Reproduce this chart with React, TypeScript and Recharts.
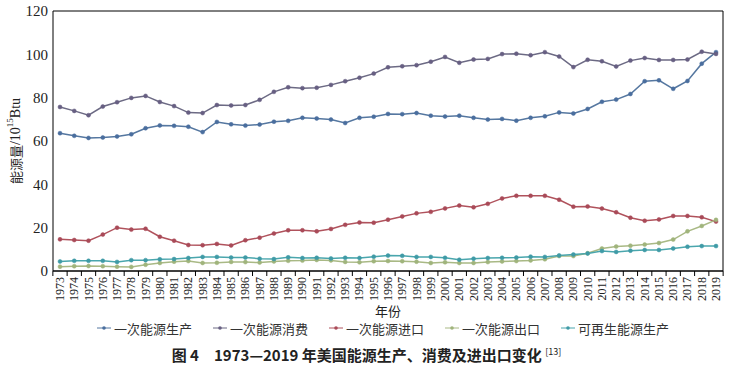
import React from 'react';
import { LineChart, Line, XAxis, YAxis, CartesianGrid, Legend } from 'recharts';

const years = [
  '1973','1974','1975','1976','1977','1978','1979','1980','1981','1982','1983','1984','1985','1986','1987','1988',
  '1989','1990','1991','1992','1993','1994','1995','1996','1997','1998','1999','2000','2001','2002','2003','2004',
  '2005','2006','2007','2008','2009','2010','2011','2012','2013','2014','2015','2016','2017','2018','2019',
];

const production = [
  63.6, 62.4, 61.4, 61.6, 62.1, 63.1, 65.9, 67.2, 67.0, 66.6, 64.1, 68.8, 67.7, 67.1, 67.6, 68.9,
  69.3, 70.7, 70.4, 69.9, 68.3, 70.7, 71.2, 72.5, 72.4, 72.9, 71.7, 71.3, 71.7, 70.7, 69.9, 70.2,
  69.4, 70.7, 71.4, 73.2, 72.7, 74.8, 78.1, 79.1, 81.7, 87.6, 88.0, 84.1, 87.7, 95.7, 101.0,
];
const consumption = [
  75.7, 73.9, 71.9, 75.9, 77.9, 79.9, 80.8, 78.0, 76.1, 73.1, 72.9, 76.6, 76.4, 76.6, 79.0, 82.7,
  84.8, 84.4, 84.6, 85.9, 87.6, 89.2, 91.1, 94.0, 94.5, 95.0, 96.6, 98.8, 96.1, 97.6, 97.9, 100.1,
  100.3, 99.6, 101.0, 99.0, 94.1, 97.5, 96.8, 94.4, 97.1, 98.3, 97.4, 97.4, 97.6, 101.2, 100.2,
];
const imports = [
  14.6, 14.3, 14.0, 16.8, 20.0, 19.1, 19.5, 15.8, 14.0, 12.0, 11.9, 12.5, 11.8, 14.2, 15.4, 17.3,
  18.8, 18.8, 18.3, 19.4, 21.3, 22.4, 22.3, 23.7, 25.2, 26.6, 27.3, 28.9, 30.2, 29.4, 31.0, 33.5,
  34.7, 34.7, 34.7, 32.9, 29.7, 29.8, 28.8, 27.1, 24.6, 23.2, 23.8, 25.4, 25.4, 24.8, 22.8,
];
const exportsData = [
  2.0, 2.2, 2.3, 2.2, 2.0, 1.9, 2.9, 3.7, 4.3, 4.6, 3.7, 3.8, 4.2, 4.1, 3.9, 4.4,
  4.7, 4.8, 5.1, 4.9, 4.2, 4.0, 4.5, 4.6, 4.5, 4.3, 3.7, 4.0, 3.7, 3.7, 4.1, 4.4,
  4.6, 4.9, 5.4, 6.9, 6.9, 8.2, 10.4, 11.3, 11.7, 12.2, 12.9, 14.5, 18.3, 20.8, 23.6,
];
const renewable = [
  4.4, 4.7, 4.7, 4.7, 4.2, 5.0, 5.0, 5.4, 5.5, 6.0, 6.5, 6.5, 6.2, 6.2, 5.7, 5.5,
  6.3, 6.0, 6.1, 5.8, 6.1, 6.0, 6.6, 7.1, 7.0, 6.5, 6.5, 6.1, 5.2, 5.7, 6.0, 6.1,
  6.2, 6.6, 6.5, 7.2, 7.6, 8.1, 9.2, 8.8, 9.4, 9.7, 9.7, 10.4, 11.2, 11.5, 11.5,
];

const yTicks = [0, 20, 40, 60, 80, 100, 120];

const seriesDefs = [
  { key: 'production', name: '一次能源生产', color: '#5577a0', dot: '#4a6e9e' },
  { key: 'consumption', name: '一次能源消费', color: '#6c6a84', dot: '#675f82' },
  { key: 'imports', name: '一次能源进口', color: '#b0525c', dot: '#a94a58' },
  { key: 'exports', name: '一次能源出口', color: '#a9b985', dot: '#a0b47c' },
  { key: 'renewable', name: '可再生能源生产', color: '#4aa6ad', dot: '#3f9aa6' },
];

const data = years.map((y, i) => ({
  year: y,
  production: production[i],
  consumption: consumption[i],
  imports: imports[i],
  exports: exportsData[i],
  renewable: renewable[i],
}));

const SERIF = '"Liberation Serif", "Times New Roman", "Noto Sans CJK SC", serif';

const XTick = (props: any) => {
  const { x, y, payload, index } = props;
  const half = 7.13;
  return (
    <g>
      <line x1={x + half} y1={y} x2={x + half} y2={y + 5} stroke="#000" strokeWidth={1} />
      {index === 0 ? <line x1={x - half} y1={y} x2={x - half} y2={y + 5} stroke="#000" strokeWidth={1} /> : null}
      <text
        transform={`translate(${x},${y + 6}) rotate(-90)`}
        textAnchor="end"
        dominantBaseline="central"
        fontFamily={SERIF}
        fontSize={12}
        fill="#222"
      >
        {payload.value}
      </text>
    </g>
  );
};

const YLabel = (props: any) => {
  const vb = props.viewBox || { x: 8, y: 11, width: 45, height: 260 };
  const cx = vb.x + 7;
  const cy = vb.y + vb.height / 2;
  return (
    <text
      transform={`translate(${cx},${cy}) rotate(-90)`}
      textAnchor="middle"
      dominantBaseline="central"
      fontFamily={SERIF}
      fontSize={14}
      fill="#222"
    >
      <tspan fontFamily='"Noto Sans CJK SC", sans-serif' fontSize={13}>能源量</tspan>
      <tspan>/10</tspan>
      <tspan fontSize={9} dy={-5}>15</tspan>
      <tspan dy={5}>Btu</tspan>
    </text>
  );
};

const LegendContent = () => (
  <div
    style={{
      display: 'flex',
      justifyContent: 'center',
      gap: 21,
      marginLeft: 40,
      width: 670,
      height: 16,
      alignItems: 'center',
      fontFamily: '"Noto Sans CJK SC", sans-serif',
      fontSize: 13,
      color: '#333',
      whiteSpace: 'nowrap',
    }}
  >
    {seriesDefs.map((s) => (
      <div key={s.key} style={{ display: 'flex', alignItems: 'center' }}>
        <svg width={14} height={8} style={{ marginRight: 3 }}>
          <line x1={0} y1={4} x2={14} y2={4} stroke={s.color} strokeWidth={1} />
          <circle cx={7} cy={4} r={1.8} fill={s.dot} />
        </svg>
        <span>{s.name}</span>
      </div>
    ))}
  </div>
);

export default function App() {
  return (
    <div style={{ position: 'absolute', left: 0, top: 0, width: 733, height: 370, background: '#fff' }}>
      <LineChart width={733} height={370} data={data} margin={{ top: 11, right: 0, left: 8, bottom: 34 }}>
        <CartesianGrid horizontal vertical={false} stroke="#000" strokeWidth={1} />
        <XAxis
          dataKey="year"
          interval={0}
          height={49}
          padding={{ left: 7, right: 7 }}
          axisLine={{ stroke: '#000' }}
          tickLine={false}
          tickSize={0}
          tickMargin={0}
          tick={<XTick />}
        />
        <YAxis
          yAxisId="left"
          domain={[0, 120]}
          ticks={yTicks}
          width={45}
          axisLine={{ stroke: '#000' }}
          tickLine={false}
          tickSize={0}
          tickMargin={5}
          tick={{ fontFamily: SERIF, fontSize: 15, fill: '#222' }}
          label={{ content: <YLabel /> }}
        />
        <YAxis
          yAxisId="right"
          orientation="right"
          domain={[0, 120]}
          ticks={yTicks}
          width={10}
          axisLine={{ stroke: '#000' }}
          tickLine={{ stroke: '#000' }}
          tickSize={3}
          tickFormatter={() => ''}
        />
        {seriesDefs.map((s) => (
          <Line
            key={s.key}
            yAxisId="left"
            type="linear"
            dataKey={s.key}
            name={s.name}
            stroke={s.color}
            strokeWidth={1.5}
            dot={{ r: 2, fill: s.dot, stroke: s.dot, strokeWidth: 0.5 }}
            isAnimationActive={false}
          />
        ))}
        <Legend verticalAlign="bottom" height={16} content={<LegendContent />} />
      </LineChart>
      <div
        style={{
          position: 'absolute',
          left: 53,
          top: 302,
          width: 670,
          textAlign: 'center',
          fontFamily: '"Noto Sans CJK SC", sans-serif',
          fontSize: 13,
          lineHeight: '18px',
          color: '#222',
        }}
      >
        年份
      </div>
      <div
        style={{
          position: 'absolute',
          left: 0,
          top: 344,
          width: 733,
          textAlign: 'center',
          fontFamily: '"Noto Sans CJK SC", sans-serif',
          fontWeight: 'bold',
          fontSize: 15,
          color: '#222',
          whiteSpace: 'pre',
        }}
      >
        图 4{'　'}1973—2019 年美国能源生产、消费及进出口变化 <sup style={{ fontSize: 9, fontWeight: 'normal' }}>[13]</sup>
      </div>
    </div>
  );
}
